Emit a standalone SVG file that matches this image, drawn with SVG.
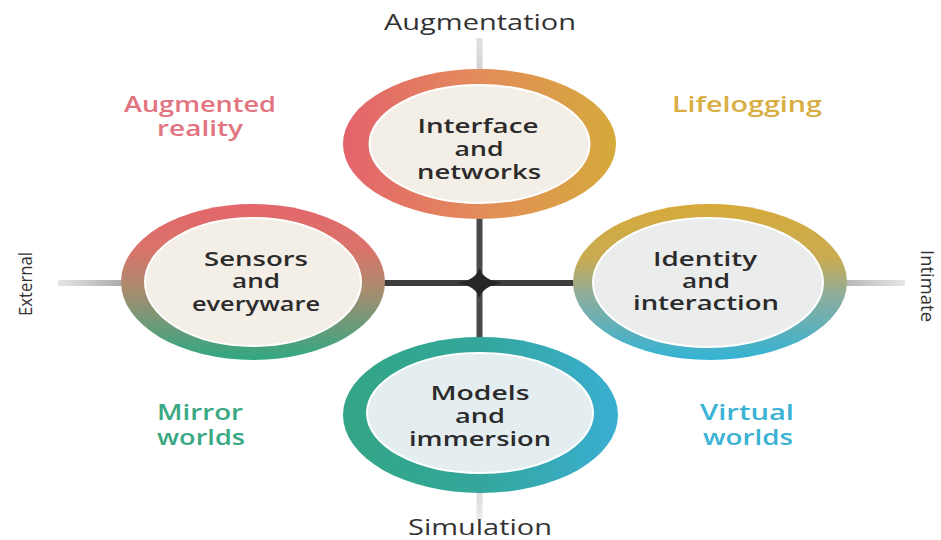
<svg xmlns="http://www.w3.org/2000/svg" width="941" height="540" viewBox="0 0 941 540">
<defs>
<style>
.ct{font-family:"Open Sans","Liberation Sans",sans-serif;font-weight:600;font-size:20px;fill:#2b2b2b;text-anchor:middle}
.ax{font-family:"Open Sans","Liberation Sans",sans-serif;font-weight:400;font-size:21px;fill:#333;text-anchor:middle}
.sd{font-family:"Open Sans","Liberation Sans",sans-serif;font-weight:400;font-size:19px;fill:#333;text-anchor:middle}
.ql{font-family:"Open Sans","Liberation Sans",sans-serif;font-weight:600;font-size:21px;text-anchor:middle}
.inner{stroke:#ffffff;stroke-width:2}
</style>
<linearGradient id="gTop" x1="0" y1="0" x2="1" y2="0">
<stop offset="0" stop-color="#e3636b"/><stop offset="0.5" stop-color="#e38c5a"/><stop offset="1" stop-color="#d5aa3b"/>
</linearGradient>
<linearGradient id="gLeft" x1="0" y1="0" x2="0" y2="1">
<stop offset="0" stop-color="#e3666b"/><stop offset="0.3" stop-color="#d9746a"/><stop offset="0.55" stop-color="#a88c6e"/><stop offset="1" stop-color="#30a883"/>
</linearGradient>
<linearGradient id="gRight" x1="0" y1="0" x2="0" y2="1">
<stop offset="0" stop-color="#d6aa3a"/><stop offset="0.35" stop-color="#c8ab52"/><stop offset="0.6" stop-color="#8bada0"/><stop offset="1" stop-color="#32b3d4"/>
</linearGradient>
<linearGradient id="gBottom" x1="0" y1="0" x2="1" y2="0">
<stop offset="0" stop-color="#33a585"/><stop offset="0.5" stop-color="#33a79c"/><stop offset="1" stop-color="#3aaed2"/>
</linearGradient>
<linearGradient id="hLine" gradientUnits="userSpaceOnUse" x1="58" y1="0" x2="905" y2="0">
<stop offset="0" stop-color="#e6e6e6"/><stop offset="0.08" stop-color="#a8a8a8"/><stop offset="0.35" stop-color="#3c3c3c"/><stop offset="0.65" stop-color="#3c3c3c"/><stop offset="0.92" stop-color="#b0b0b0"/><stop offset="1" stop-color="#e6e6e6"/>
</linearGradient>
<linearGradient id="vLine" gradientUnits="userSpaceOnUse" x1="0" y1="38" x2="0" y2="520">
<stop offset="0" stop-color="#e2e2e2"/><stop offset="0.06" stop-color="#d4d4d4"/><stop offset="0.37" stop-color="#4a4a4a"/><stop offset="0.62" stop-color="#4a4a4a"/><stop offset="0.93" stop-color="#d8d8d8"/><stop offset="1" stop-color="#ececec"/>
</linearGradient>
</defs>
<rect width="941" height="540" fill="#ffffff"/>

<g id="connectors">
<line x1="479.5" y1="38" x2="479.5" y2="520" stroke="url(#vLine)" stroke-width="6"/>
<line x1="58" y1="283" x2="905" y2="283" stroke="url(#hLine)" stroke-width="6"/>
<path d="M457,283 C470,281 477,276 479.5,268 C482,276 489,281 502,283 C489,285 482,290 479.5,298 C477,290 470,285 457,283 Z" fill="#262626"/>
</g>

<g id="axis-labels">
<text class="ax" x="480" y="30" textLength="192" lengthAdjust="spacingAndGlyphs">Augmentation</text>
<text class="ax" x="480" y="535" textLength="144" lengthAdjust="spacingAndGlyphs">Simulation</text>
<text class="sd" transform="translate(32,284) rotate(-90)" x="0" y="0" textLength="64" lengthAdjust="spacingAndGlyphs">External</text>
<text class="sd" transform="translate(921,286) rotate(90)" x="0" y="0" textLength="72" lengthAdjust="spacingAndGlyphs">Intimate</text>
</g>

<g id="quadrant-labels">
<text class="ql" fill="#e27480" x="200" y="112" textLength="152" lengthAdjust="spacingAndGlyphs">Augmented</text>
<text class="ql" fill="#e27480" x="200" y="136" textLength="86" lengthAdjust="spacingAndGlyphs">reality</text>
<text class="ql" fill="#d8ae42" x="747" y="112" textLength="150" lengthAdjust="spacingAndGlyphs">Lifelogging</text>
<text class="ql" fill="#3aa983" x="200" y="420" textLength="86" lengthAdjust="spacingAndGlyphs">Mirror</text>
<text class="ql" fill="#3aa983" x="201" y="445" textLength="88" lengthAdjust="spacingAndGlyphs">worlds</text>
<text class="ql" fill="#3cb2d4" x="747" y="420" textLength="94" lengthAdjust="spacingAndGlyphs">Virtual</text>
<text class="ql" fill="#3cb2d4" x="748" y="445" textLength="90" lengthAdjust="spacingAndGlyphs">worlds</text>
</g>

<g id="node-top">
<ellipse cx="479.5" cy="144" rx="136.5" ry="75" fill="url(#gTop)"/>
<ellipse class="inner" cx="479.5" cy="144" rx="110" ry="59" fill="#f3eee6"/>
<text class="ct" x="478" y="133" textLength="121" lengthAdjust="spacingAndGlyphs">Interface</text>
<text class="ct" x="479" y="156" textLength="49" lengthAdjust="spacingAndGlyphs">and</text>
<text class="ct" x="479" y="179" textLength="124" lengthAdjust="spacingAndGlyphs">networks</text>
</g>

<g id="node-left">
<ellipse cx="253" cy="282" rx="132" ry="78" fill="url(#gLeft)"/>
<ellipse class="inner" cx="253" cy="282" rx="108" ry="64" fill="#f3eee6"/>
<text class="ct" x="256" y="266" textLength="104" lengthAdjust="spacingAndGlyphs">Sensors</text>
<text class="ct" x="256" y="288" textLength="48" lengthAdjust="spacingAndGlyphs">and</text>
<text class="ct" x="256" y="311" textLength="128" lengthAdjust="spacingAndGlyphs">everyware</text>
</g>

<g id="node-right">
<ellipse cx="710" cy="282" rx="137" ry="78" fill="url(#gRight)"/>
<ellipse class="inner" cx="708" cy="282.5" rx="115" ry="64.5" fill="#ebedec"/>
<text class="ct" x="705" y="266" textLength="104" lengthAdjust="spacingAndGlyphs">Identity</text>
<text class="ct" x="706" y="288" textLength="48" lengthAdjust="spacingAndGlyphs">and</text>
<text class="ct" x="706" y="310" textLength="146" lengthAdjust="spacingAndGlyphs">interaction</text>
</g>

<g id="node-bottom">
<ellipse cx="480.5" cy="415" rx="137.5" ry="78" fill="url(#gBottom)"/>
<ellipse class="inner" cx="480" cy="413" rx="113" ry="60" fill="#e4eef1"/>
<text class="ct" x="480" y="400" textLength="99" lengthAdjust="spacingAndGlyphs">Models</text>
<text class="ct" x="480" y="423" textLength="50" lengthAdjust="spacingAndGlyphs">and</text>
<text class="ct" x="480" y="446" textLength="142" lengthAdjust="spacingAndGlyphs">immersion</text>
</g>
</svg>
